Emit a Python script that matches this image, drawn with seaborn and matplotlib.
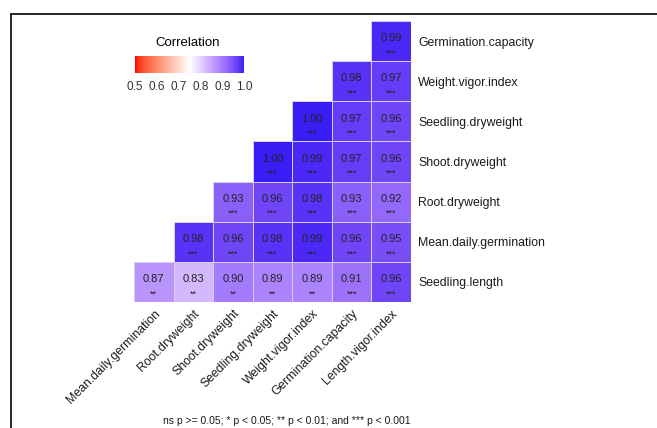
import numpy as np
import pandas as pd
import matplotlib
matplotlib.use('Agg')
import matplotlib.pyplot as plt
from matplotlib.colors import ListedColormap, to_rgb
from matplotlib.lines import Line2D
import seaborn as sns

# rows top -> bottom, columns left -> right (lower triangle from ggcorrplot)
row_names = ['Germination.capacity', 'Weight.vigor.index', 'Seedling.dryweight',
             'Shoot.dryweight', 'Root.dryweight', 'Mean.daily.germination',
             'Seedling.length']
col_names = ['Mean.daily.germination', 'Root.dryweight', 'Shoot.dryweight',
             'Seedling.dryweight', 'Weight.vigor.index', 'Germination.capacity',
             'Length.vigor.index']

r_germ_cap = [None, None, None, None, None, None, 0.99]
r_weight_vig = [None, None, None, None, None, 0.98, 0.97]
r_seed_dw = [None, None, None, None, 1.00, 0.97, 0.96]
r_shoot_dw = [None, None, None, 1.00, 0.99, 0.97, 0.96]
r_root_dw = [None, None, 0.93, 0.96, 0.98, 0.93, 0.92]
r_mean_daily = [None, 0.98, 0.96, 0.98, 0.99, 0.96, 0.95]
r_seed_len = [0.87, 0.83, 0.90, 0.89, 0.89, 0.91, 0.96]

p_stars_last = ['**', '**', '**', '**', '**', '***', '***']  # Seedling.length row, rest are ***

caption = 'ns p >= 0.05; * p < 0.05; ** p < 0.01; and *** p < 0.001'


def srgb_to_lab(c):
    c = np.asarray(c, dtype=float)
    lin = np.where(c <= 0.04045, c / 12.92, ((c + 0.055) / 1.055) ** 2.4)
    m = np.array([[0.4124, 0.3576, 0.1805],
                  [0.2126, 0.7152, 0.0722],
                  [0.0193, 0.1192, 0.9505]])
    xyz = m @ lin / np.array([0.95047, 1.0, 1.08883])
    f = np.where(xyz > 0.008856, np.cbrt(xyz), 7.787 * xyz + 16 / 116)
    return np.array([116 * f[1] - 16, 500 * (f[0] - f[1]), 200 * (f[1] - f[2])])


def lab_to_srgb(lab):
    fy = (lab[0] + 16) / 116
    f = np.array([fy + lab[1] / 500, fy, fy - lab[2] / 200])
    xyz = np.where(f ** 3 > 0.008856, f ** 3, (f - 16 / 116) / 7.787)
    xyz = xyz * np.array([0.95047, 1.0, 1.08883])
    m = np.array([[3.2406, -1.5372, -0.4986],
                  [-0.9689, 1.8758, 0.0415],
                  [0.0557, -0.2040, 1.0570]])
    lin = np.clip(m @ xyz, 0, 1)
    c = np.where(lin <= 0.0031308, 12.92 * lin, 1.055 * lin ** (1 / 2.4) - 0.055)
    return np.clip(c, 0, 1)


def gradient2(low, mid, high, n=256):
    lo, mi, hi = [srgb_to_lab(to_rgb(c)) for c in (low, mid, high)]
    cols = []
    for t in np.linspace(0, 1, n):
        if t < 0.5:
            lab = lo + (mi - lo) * (t / 0.5)
        else:
            lab = mi + (hi - mi) * ((t - 0.5) / 0.5)
        cols.append(lab_to_srgb(lab))
    return ListedColormap(cols)


cmap = gradient2('#FF0000', '#FFFFFF', '#3A1CF5')

rows = [r_germ_cap, r_weight_vig, r_seed_dw, r_shoot_dw, r_root_dw, r_mean_daily, r_seed_len]
df = pd.DataFrame([[np.nan if v is None else v for v in r] for r in rows],
                  index=row_names, columns=col_names)
mask = df.isna()

sns.set_style('white')
plt.rcParams['font.family'] = ['Liberation Sans', 'DejaVu Sans']

W, H = 657, 428
fig = plt.figure(figsize=(W / 100, H / 100), dpi=100)
ax = fig.add_axes([134 / W, 1 - 302 / H, 277 / W, 281 / H])
cax = fig.add_axes([135 / W, 1 - 73 / H, 109 / W, 17 / H])

sns.heatmap(df, mask=mask, cmap=cmap, vmin=0.5, vmax=1.0, ax=ax, cbar_ax=cax,
            cbar_kws={'orientation': 'horizontal', 'ticks': [0.5, 0.6, 0.7, 0.8, 0.9, 1.0]},
            linewidths=0.7, linecolor='#D4D0EC')

# no outline on the empty (masked) half
mesh = ax.collections[0]
edge = [(0, 0, 0, 0) if m else to_rgb('#D4D0EC') + (1,) for m in mask.values.ravel()]
mesh.set_edgecolor(edge)

for i, r in enumerate(rows):
    for j, v in enumerate(r):
        if v is None:
            continue
        stars = p_stars_last[j] if i == len(rows) - 1 else '***'
        ax.text(j + 0.5, i + 0.43, f'{v:.2f}', ha='center', va='center',
                fontsize=8, color='#222222')
        ax.text(j + 0.5, i + 0.8, stars, ha='center', va='center',
                fontsize=6.5, color='#222222')

ax.yaxis.tick_right()
ax.set_xlabel('')
ax.set_ylabel('')
ax.set_yticklabels(row_names, rotation=0, fontsize=8.8, color='#1a1a1a')
ax.set_xticklabels(col_names, rotation=45, ha='right', rotation_mode='anchor',
                   fontsize=8.8, color='#1a1a1a')
ax.tick_params(axis='both', length=0)
ax.tick_params(axis='y', pad=5)
ax.tick_params(axis='x', pad=4)

cb = mesh.colorbar
cb.outline.set_visible(False)
cax.tick_params(axis='x', colors='white', direction='in', length=3.5, width=0.8,
                top=True, labelsize=8.5, labelcolor='#333333', pad=6)
cax.set_xticklabels(['0.5', '0.6', '0.7', '0.8', '0.9', '1.0'])

fig.text(188 / W, 1 - 43 / H, 'Correlation', ha='center', va='center',
         fontsize=9.5, color='black')
fig.text(411 / W, 1 - 421 / H, caption, ha='right', va='center',
         fontsize=7.5, color='#1a1a1a')

# frame lines from the screenshot
fig.add_artist(Line2D([11 / W, 11 / W], [0, 1 - 14 / H], color='black', lw=1.2))
fig.add_artist(Line2D([11 / W, 1], [1 - 14 / H, 1 - 14 / H], color='black', lw=1.2))

fig.savefig('out.png', dpi=100)
